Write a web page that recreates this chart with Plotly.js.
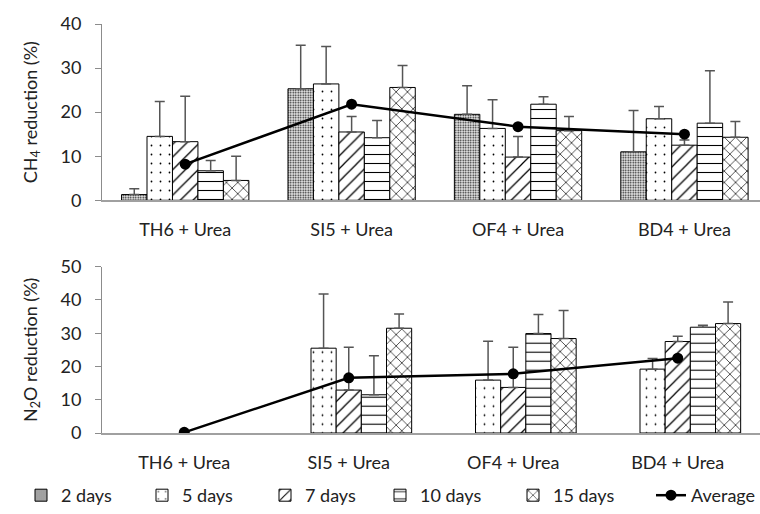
<!DOCTYPE html>
<html>
<head>
<meta charset="utf-8">
<script src="https://cdn.plot.ly/plotly-3.0.1.min.js"></script>
<style>html,body{margin:0;padding:0;background:#fff;}#chart{width:760px;height:514px;}</style>
</head>
<body>
<div id="chart"></div>
<script>
const categories = ['TH6 + Urea', 'SI5 + Urea', 'OF4 + Urea', 'BD4 + Urea'];
const seriesNames = ['2 days', '5 days', '7 days', '10 days', '15 days'];

// CH4 reduction (%)
const ch4_2d  = [1.3, 25.3, 19.5, 11.0];
const ch4_5d  = [14.5, 26.4, 16.3, 18.5];
const ch4_7d  = [13.3, 15.5, 9.8, 12.5];
const ch4_10d = [6.7, 14.2, 21.8, 17.5];
const ch4_15d = [4.5, 25.6, 15.8, 14.3];
const ch4_avg = [8.2, 21.8, 16.7, 15.0];
// CH4 error (upper)
const ch4_2d_err  = [1.3, 9.9, 6.5, 9.4];
const ch4_5d_err  = [7.9, 8.5, 6.5, 2.8];
const ch4_7d_err  = [10.3, 3.5, 4.7, 1.2];
const ch4_10d_err = [2.3, 3.9, 1.7, 11.9];
const ch4_15d_err = [5.5, 5.0, 3.2, 3.6];

// N2O reduction (%)
const n2o_2d  = [null, null, null, null];
const n2o_5d  = [null, 25.5, 15.9, 19.2];
const n2o_7d  = [null, 12.9, 13.7, 27.5];
const n2o_10d = [null, 11.5, 29.9, 31.8];
const n2o_15d = [null, 31.5, 28.4, 32.9];
const n2o_avg = [0.2, 16.6, 17.8, 22.5];
// N2O error (upper)
const n2o_2d_err  = [null, null, null, null];
const n2o_5d_err  = [null, 16.3, 11.7, 3.2];
const n2o_7d_err  = [null, 12.9, 12.1, 1.6];
const n2o_10d_err = [null, 11.7, 5.7, 0.6];
const n2o_15d_err = [null, 4.3, 8.4, 6.5];

const patterns = [
  {shape: '.', size: 2.5, solidity: 0.35, fgcolor: '#1a1a1a', bgcolor: '#ececec', fillmode: 'replace'},
  {shape: '.', size: 9, solidity: 0.03, fgcolor: '#000', bgcolor: '#fff', fillmode: 'replace'},
  {shape: '/', size: 9, solidity: 0.14, fgcolor: '#000', bgcolor: '#fff', fillmode: 'replace'},
  {shape: '-', size: 9, solidity: 0.12, fgcolor: '#000', bgcolor: '#fff', fillmode: 'replace'},
  {shape: 'x', size: 8, solidity: 0.16, fgcolor: '#000', bgcolor: '#fff', fillmode: 'replace'}
];

const ch4Vals = [ch4_2d, ch4_5d, ch4_7d, ch4_10d, ch4_15d];
const ch4Errs = [ch4_2d_err, ch4_5d_err, ch4_7d_err, ch4_10d_err, ch4_15d_err];
const n2oVals = [n2o_2d, n2o_5d, n2o_7d, n2o_10d, n2o_15d];
const n2oErrs = [n2o_2d_err, n2o_5d_err, n2o_7d_err, n2o_10d_err, n2o_15d_err];

const legendIds = ['legend', 'legend2', 'legend3', 'legend4', 'legend5', 'legend6'];
const FONT = 'Lato, "Open Sans", sans-serif';
const traces = [];
function addBars(vals, errs, xa, ya, showlegend) {
  vals.forEach((v, i) => {
    traces.push({
      type: 'bar', x: categories, y: v, name: seriesNames[i],
      xaxis: xa, yaxis: ya, showlegend: showlegend, legend: legendIds[i],
      marker: {color: '#fff', line: {color: '#000', width: 1}, pattern: patterns[i]},
      error_y: {type: 'data', symmetric: false, array: errs[i], arrayminus: v.map(() => 0),
                color: '#555', thickness: 1.5, width: 5}
    });
  });
}
addBars(ch4Vals, ch4Errs, 'x', 'y', true);
addBars(n2oVals, n2oErrs, 'x2', 'y2', false);
traces.push({type: 'scatter', mode: 'lines+markers', x: categories, y: ch4_avg, name: 'Average',
  xaxis: 'x', yaxis: 'y', legend: 'legend6',
  line: {color: '#000', width: 2.5}, marker: {color: '#000', size: 11}});
traces.push({type: 'scatter', mode: 'lines+markers', x: categories, y: n2o_avg, name: 'Average',
  xaxis: 'x2', yaxis: 'y2', legend: 'legend6', showlegend: false,
  line: {color: '#000', width: 2.5}, marker: {color: '#000', size: 11}});

const yBase = {
  showgrid: false, zeroline: false, showline: true, linecolor: '#8c8c8c', linewidth: 1,
  ticks: 'outside', ticklen: 6, tickcolor: '#8c8c8c', dtick: 10,
  tickfont: {family: FONT, size: 18, color: '#222'}, ticklabelstandoff: 10
};
const xBase = {
  type: 'category', showgrid: false, zeroline: false, showline: true, linecolor: '#a0a0a0', linewidth: 1.5,
  ticks: '', tickfont: {family: FONT, size: 18, color: '#222'}, ticklabelstandoff: 13
};

const layout = {
  width: 760, height: 514,
  margin: {l: 102, r: 0, t: 24, b: 81},
  paper_bgcolor: '#fff', plot_bgcolor: '#fff',
  barmode: 'group', bargap: 0.235, bargroupgap: 0,
  font: {family: FONT, color: '#222'},
  xaxis: Object.assign({}, xBase, {anchor: 'y', domain: [0, 1], range: [-0.5, 3.454]}),
  yaxis: Object.assign({}, yBase, {anchor: 'x', domain: [0.569, 1], range: [0, 40],
    title: {text: 'CH<sub>4</sub> reduction (%)', font: {family: FONT, size: 18, color: '#222'}, standoff: 18}}),
  xaxis2: Object.assign({}, xBase, {anchor: 'y2', domain: [0, 1], range: [-0.5, 3.5]}),
  yaxis2: Object.assign({}, yBase, {anchor: 'x2', domain: [0, 0.4066], range: [0, 50],
    title: {text: 'N<sub>2</sub>O reduction (%)', font: {family: FONT, size: 18, color: '#222'}, standoff: 18}}),
  showlegend: true
};
// one legend box per entry, placed where the reference puts each entry
const legendLeft = [21, 142, 265, 380, 513, 651];
legendIds.forEach((id, i) => {
  layout[id] = {orientation: 'h', xref: 'container', yref: 'container', x: legendLeft[i] / 760, y: 0.0,
    xanchor: 'left', yanchor: 'bottom', itemwidth: 30, bgcolor: 'rgba(0,0,0,0)',
    font: {family: FONT, size: 18, color: '#222'}};
});

Plotly.newPlot('chart', traces, layout, {displayModeBar: false, staticPlot: true});
</script>
</body>
</html>
